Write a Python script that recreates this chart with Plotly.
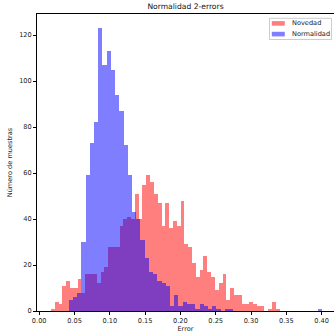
import numpy as np
import plotly.graph_objects as go

# Histogram data (60 bins per series)
novedad_range = (0.0167, 0.3407)
novedad_counts = [1, 4, 3, 11, 13, 10, 10, 14, 8, 16, 16, 16, 12, 17, 19, 28, 28, 28, 37, 40,
                  41, 40, 51, 40, 55, 59, 56, 51, 47, 37, 47, 36, 39, 37, 48, 29, 28, 21, 15, 18,
                  24, 17, 15, 9, 12, 16, 5, 10, 7, 7, 3, 3, 4, 3, 2, 2, 0, 1, 4, 1]

normalidad_range = (0.0418, 0.4006)
normalidad_counts = [5, 6, 8, 30, 59, 73, 82, 123, 107, 113, 105, 94, 87, 72, 59, 43, 40, 31, 23, 17,
                     16, 13, 12, 11, 2, 7, 2, 4, 3, 3, 1, 3, 2, 1, 2, 1, 0, 1, 1, 0,
                     0, 0, 0, 0, 0, 0, 0, 0, 0, 0, 0, 0, 0, 0, 0, 0, 0, 0, 0, 1]

series_names = ["Novedad", "Normalidad"]
series_colors = ["red", "blue"]
x_ticks = [0.00, 0.05, 0.10, 0.15, 0.20, 0.25, 0.30, 0.35, 0.40]
y_ticks = [0, 20, 40, 60, 80, 100, 120]

W, H = 334, 335
L, R, T, B = 37, 0, 14, 24
PW, PH = W - L - R, H - T - B


def bins(rng, counts):
    edges = np.linspace(rng[0], rng[1], len(counts) + 1)
    centers = (edges[:-1] + edges[1:]) / 2
    widths = np.diff(edges)
    return centers, widths


fig = go.Figure()
for name, rng, counts, color in zip(series_names, [novedad_range, normalidad_range],
                                    [novedad_counts, normalidad_counts], series_colors):
    c, w = bins(rng, counts)
    fig.add_trace(go.Bar(x=c, y=counts, width=w, name=name,
                         marker=dict(color=color, line=dict(width=0)), opacity=0.5))


def px_x(p):
    return (p - L) / PW


def px_y(p):
    return (H - B - p) / PH


font = "DejaVu Sans, Arial, sans-serif"

# Legend drawn as shapes + text (matplotlib-like compact legend)
shapes = [dict(type="rect", xref="paper", yref="paper",
               x0=px_x(269.5), x1=px_x(331.5), y0=px_y(39.5), y1=px_y(18.3),
               line=dict(color="#cccccc", width=1), fillcolor="rgba(255,255,255,0.8)", layer="above")]
annotations = []
for k, (name, color) in enumerate(zip(series_names, series_colors)):
    cy = 23.4 + k * 10.7
    shapes.append(dict(type="rect", xref="paper", yref="paper",
                       x0=px_x(271.8), x1=px_x(284.8), y0=px_y(cy + 2.3), y1=px_y(cy - 2.3),
                       line=dict(width=0), fillcolor=color, opacity=0.5, layer="above"))
    annotations.append(dict(text=name, xref="paper", yref="paper", x=px_x(290.3), y=px_y(cy),
                            xanchor="left", yanchor="middle", showarrow=False,
                            font=dict(size=6.6, color="#222")))

fig.update_layout(
    width=W, height=H,
    barmode="overlay", bargap=0,
    plot_bgcolor="white", paper_bgcolor="white",
    margin=dict(l=L, r=R, t=T, b=B, pad=0),
    font=dict(family=font, size=6.6, color="#222"),
    title=dict(text="Normalidad 2-errors", x=0.5, xref="paper", xanchor="center",
               y=1 - 6.5 / H, yref="container", yanchor="middle",
               font=dict(size=7.6, color="#111")),
    showlegend=False,
    hovermode=False,
    shapes=shapes,
    annotations=annotations,
    xaxis=dict(range=[(L - 39.2) / 706, (W - R - 39.2) / 706], tickvals=x_ticks,
               ticktext=[f"{v:.2f}" for v in x_ticks],
               showline=True, linecolor="black", linewidth=0.9, mirror=True,
               ticks="outside", ticklen=3, tickwidth=0.8, tickcolor="black",
               showgrid=False, zeroline=False,
               tickfont=dict(size=6.6),
               title=dict(text="Error", font=dict(size=6.6), standoff=1)),
    yaxis=dict(range=[0, PH / 2.3], tickvals=y_ticks,
               showline=True, linecolor="black", linewidth=0.9, mirror=False,
               ticks="outside", ticklen=3, tickwidth=0.8, tickcolor="black",
               showgrid=False, zeroline=False,
               tickfont=dict(size=6.6),
               title=dict(text="Número de muestras", font=dict(size=6.6), standoff=5)),
)

fig.write_html("out.html", config={"displayModeBar": False},
               post_script="document.body.style.margin='0';document.body.style.overflow='hidden';")
